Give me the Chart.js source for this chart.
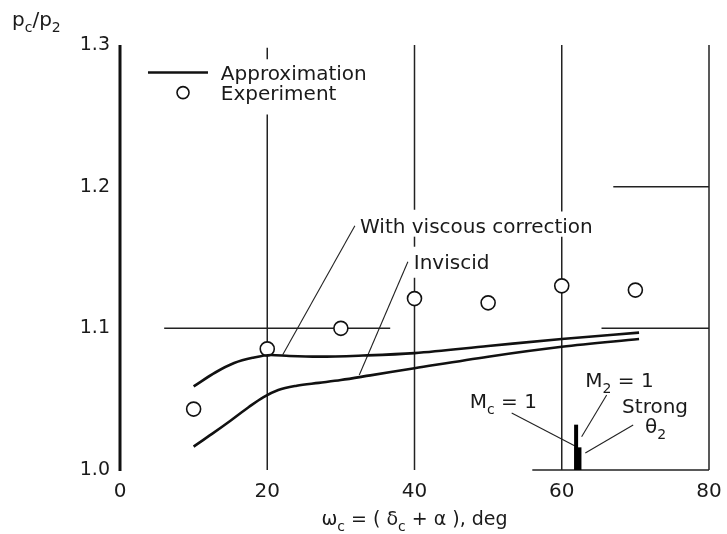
<!DOCTYPE html>
<html><head><meta charset="utf-8">
<script src="https://cdn.jsdelivr.net/npm/chart.js@4/dist/chart.umd.min.js"></script>
<style>html,body{margin:0;padding:0;background:#fff}canvas{display:block}</style>
</head><body>
<canvas id="c" width="727" height="534"></canvas>
<script>
// ---- data ----
const xTicks = [0, 20, 40, 60, 80];
const yTicks = [1.0, 1.1, 1.2, 1.3];
const expX = [10, 20, 30, 40, 50, 60, 70];
const expY = [1.043, 1.0855, 1.100, 1.121, 1.118, 1.130, 1.127];
const viscX = [10, 13, 15.5, 18, 20.5, 23, 27, 33, 40, 50, 60, 70.5];
const viscY = [1.059, 1.069, 1.0755, 1.0792, 1.0812, 1.0805, 1.0800, 1.0808, 1.0825, 1.0875, 1.0925, 1.097];
const invX = [10, 12.5, 15, 17.5, 19.5, 21.5, 24, 27, 30, 34, 40, 50, 60, 70.5];
const invY = [1.0165, 1.0255, 1.0348, 1.0445, 1.0515, 1.0565, 1.0595, 1.0615, 1.0635, 1.0668, 1.0718, 1.080, 1.087, 1.0925];
const shockX = [61.95, 62.2];
const shockY = [1.032, 1.016];

// ---- reference lines (data coords) ----
const vSegs = [[20,1.0,1.251],[20,1.290,1.298],[40,1.0,1.1357],[40,1.1576,1.1647],[40,1.1837,1.3],[60,1.0,1.1647],[60,1.1825,1.3],[80,1.0,1.3]];
const hSegs = [[1.2,67,80],[1.1,6,36.7],[1.1,65.4,80],[1.0,56,80]];
const leaders = [[31.9,1.1724,22.1,1.0813],[39.1,1.147,32.5,1.0671],[53.2,1.0403,62.0,1.0164],[66.1,1.053,62.7,1.0235],[69.7,1.0318,63.2,1.012]];

const pts = (xs, ys) => xs.map((x, i) => ({x, y: ys[i]}));
const FONT = '"DejaVu Sans"';
const INK = '#1a1a1a';

function rich(ctx, parts, x, y, size, align) {
  const fb = size + 'px ' + FONT, fs = Math.round(size * 0.72) + 'px ' + FONT;
  let w = 0;
  parts.forEach(p => { ctx.font = p[1] ? fs : fb; w += ctx.measureText(p[0]).width; });
  let cx = align === 'center' ? x - w / 2 : x;
  ctx.textAlign = 'left'; ctx.textBaseline = 'alphabetic'; ctx.fillStyle = INK;
  parts.forEach(p => {
    ctx.font = p[1] ? fs : fb;
    ctx.fillText(p[0], cx, p[1] ? y + size * 0.3 : y);
    cx += ctx.measureText(p[0]).width;
  });
}

const deco = {
  id: 'deco',
  beforeDatasetsDraw(chart) {
    const {ctx, scales: {x, y}} = chart;
    ctx.save();
    ctx.strokeStyle = '#222'; ctx.lineWidth = 1.5;
    vSegs.forEach(s => { ctx.beginPath(); ctx.moveTo(x.getPixelForValue(s[0]), y.getPixelForValue(s[1])); ctx.lineTo(x.getPixelForValue(s[0]), y.getPixelForValue(s[2])); ctx.stroke(); });
    hSegs.forEach(s => { ctx.beginPath(); ctx.moveTo(x.getPixelForValue(s[1]), y.getPixelForValue(s[0])); ctx.lineTo(x.getPixelForValue(s[2]), y.getPixelForValue(s[0])); ctx.stroke(); });
    // left axis
    ctx.lineWidth = 3; ctx.strokeStyle = '#111';
    ctx.beginPath(); ctx.moveTo(x.getPixelForValue(0), y.getPixelForValue(1.0) + 1); ctx.lineTo(x.getPixelForValue(0), y.getPixelForValue(1.3)); ctx.stroke();
    // leaders
    ctx.lineWidth = 1.1; ctx.strokeStyle = '#222';
    leaders.forEach(l => { ctx.beginPath(); ctx.moveTo(x.getPixelForValue(l[0]), y.getPixelForValue(l[1])); ctx.lineTo(x.getPixelForValue(l[2]), y.getPixelForValue(l[3])); ctx.stroke(); });
    ctx.restore();
  },
  afterDatasetsDraw(chart) {
    const {ctx, scales: {x, y}} = chart;
    const X = v => x.getPixelForValue(v), Y = v => y.getPixelForValue(v);
    ctx.save();
    // legend
    ctx.strokeStyle = '#111'; ctx.lineWidth = 2.5;
    ctx.beginPath(); ctx.moveTo(X(3.8), Y(1.2806)); ctx.lineTo(X(11.95), Y(1.2806)); ctx.stroke();
    ctx.lineWidth = 1.6;
    ctx.beginPath(); ctx.arc(X(8.56), Y(1.2664), 6, 0, Math.PI * 2); ctx.stroke();
    rich(ctx, [['Approximation']], X(13.7), Y(1.2756), 20);
    rich(ctx, [['Experiment']], X(13.7), Y(1.2615), 20);
    // annotations
    rich(ctx, [['With viscous correction']], X(32.6), Y(1.1675), 20);
    rich(ctx, [['Inviscid']], X(39.9), Y(1.142), 20);
    rich(ctx, [['M'], ['c', 1], [' = 1']], X(47.5), Y(1.0438), 20);
    rich(ctx, [['M'], ['2', 1], [' = 1']], X(63.2), Y(1.0587), 20);
    rich(ctx, [['Strong']], X(68.2), Y(1.0403), 20);
    rich(ctx, [['θ'], ['2', 1]], X(71.3), Y(1.0261), 20);
    // axis titles
    rich(ctx, [['ω'], ['c', 1], [' = ( δ'], ['c', 1], [' + α ), deg']], (chart.chartArea.left + chart.chartArea.right) / 2, 525, 19, 'center');
    rich(ctx, [['p'], ['c', 1], ['/'], ['p'], ['2', 1]], 12, 26, 20);
    ctx.restore();
  }
};

new Chart(document.getElementById('c'), {
  type: 'line',
  data: {
    datasets: [
      {data: pts(viscX, viscY), borderColor: '#111', borderWidth: 2.6, pointRadius: 0, cubicInterpolationMode: 'monotone', fill: false},
      {data: pts(invX, invY), borderColor: '#111', borderWidth: 2.6, pointRadius: 0, cubicInterpolationMode: 'monotone', fill: false},
      {data: pts([shockX[0], shockX[0]], [1.0, shockY[0]]), borderColor: '#000', borderWidth: 4, pointRadius: 0, borderCapStyle: 'butt'},
      {data: pts([shockX[1], shockX[1]], [1.0, shockY[1]]), borderColor: '#000', borderWidth: 7, pointRadius: 0, borderCapStyle: 'butt'},
      {data: pts(expX, expY), showLine: false, pointRadius: 7, pointBorderWidth: 1.6, pointBorderColor: '#111', pointBackgroundColor: '#fff'},
      {data: pts(expX, expY), showLine: false, pointRadius: 1, pointBorderWidth: 0, pointBackgroundColor: '#111'}
    ]
  },
  options: {
    responsive: false, animation: false, devicePixelRatio: 1,
    layout: {padding: {left: 0, top: 45, right: 18, bottom: 0}},
    plugins: {legend: {display: false}, tooltip: {enabled: false}},
    scales: {
      x: {
        type: 'linear', min: 0, max: 80,
        afterBuildTicks: s => { s.ticks = xTicks.map(v => ({value: v})); },
        afterFit: s => { s.height = 64; s.paddingRight = 0; s.paddingLeft = 0; },
        grid: {display: false, drawTicks: false}, border: {display: false},
        ticks: {padding: 10, color: INK, font: {family: FONT, size: 20}, maxRotation: 0}
      },
      y: {
        type: 'linear', min: 1.0, max: 1.3,
        afterBuildTicks: s => { s.ticks = yTicks.map(v => ({value: v})); },
        afterFit: s => { s.width = 120; s.paddingTop = 0; s.paddingBottom = 0; },
        grid: {display: false, drawTicks: false}, border: {display: false},
        ticks: {padding: 10, color: INK, font: {family: FONT, size: 19}, callback: v => v.toFixed(1)}
      }
    }
  },
  plugins: [deco]
});
</script>
</body></html>
